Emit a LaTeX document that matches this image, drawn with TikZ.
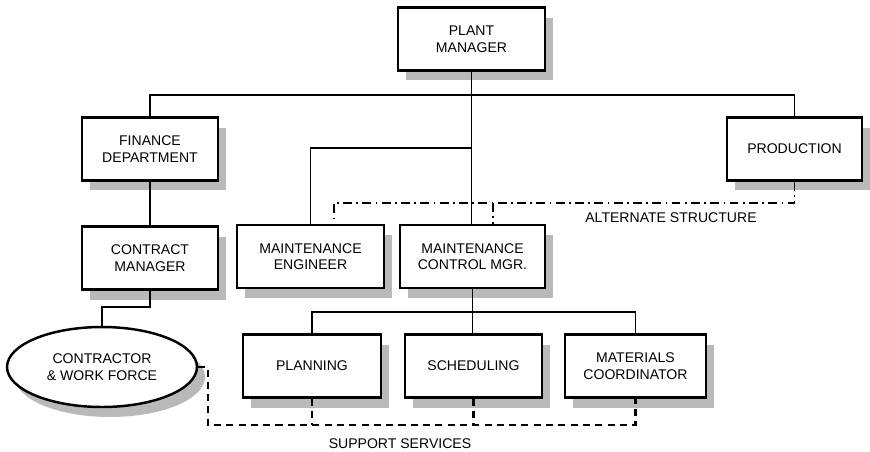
\documentclass[tikz,border=0pt]{standalone}
\usepackage{fontspec}
\setmainfont{Liberation Sans}
\usepackage{xcolor}
\usepackage{tikz}
\usetikzlibrary{shapes,arrows,positioning,calc,shadows}

\begin{document}
\begin{tikzpicture}[x=0.02cm,y=-0.02cm,
    orgbox/.style={draw,line width=1.4pt,fill=white,align=center,
      minimum height=1.26cm,inner sep=2pt,
      font=\fontsize{8}{9.5}\selectfont,
      drop shadow={shadow xshift=0.16cm,shadow yshift=-0.2cm,fill=gray!55,opacity=1}},
    link/.style={line width=1.1pt},
    altline/.style={line width=1pt,dash pattern=on 5pt off 2.5pt on 1pt off 2.5pt},
    supline/.style={line width=1.2pt,dash pattern=on 4pt off 3pt},
    lbl/.style={font=\fontsize{8}{9.5}\selectfont}]
  \useasboundingbox (0,0) rectangle (870,451);
  % 方框
  \node[orgbox,minimum width=2.94cm] (plant) at (471.5,39) {PLANT\\MANAGER};
  \node[orgbox,minimum width=2.72cm] (finance) at (150,149) {FINANCE\\DEPARTMENT};
  \node[orgbox,minimum width=2.7cm] (prod) at (794.5,149) {PRODUCTION};
  \node[orgbox,minimum width=2.72cm] (contract) at (150,258) {CONTRACT\\MANAGER};
  \node[orgbox,minimum width=2.94cm] (engineer) at (310.5,256.5) {MAINTENANCE\\ENGINEER};
  \node[orgbox,minimum width=2.9cm] (control) at (472.5,256.5) {MAINTENANCE\\CONTROL MGR.};
  \node[orgbox,minimum width=2.76cm] (planning) at (312,366) {PLANNING};
  \node[orgbox,minimum width=2.74cm] (sched) at (473.5,366) {SCHEDULING};
  \node[orgbox,minimum width=2.82cm] (mater) at (635.5,366) {MATERIALS\\COORDINATOR};
  \node[orgbox,ellipse,minimum width=3.8cm,minimum height=1.6cm] (contractor) at (102,367) {CONTRACTOR\\\& WORK FORCE};
  % 实线
  \coordinate (topbar) at (472,95);
  \coordinate (midbar) at (472,148);
  \coordinate (lowbar) at (472,312);
  \coordinate (bend) at (150,307);
  \draw[link] (finance.north) |- (topbar) -| (prod.north);
  \draw[link] (plant.south) -- (plant.south |- control.north);
  \draw[link] (engineer.north) |- (midbar);
  \draw[link] (finance) -- (contract);
  \draw[link] (contract.south) -- (bend) -| (contractor.north);
  \draw[link] (control.south) -- (control.south |- sched.north);
  \draw[link] (planning.north) |- (lowbar) -| (mater.north);
  % 备选结构
  \coordinate (altR) at (794.5,203);
  \coordinate (altL) at (334,203);
  \coordinate (altM) at (493,203);
  \draw[altline] (prod.south) -- (altR) -- (altL) -- (altL |- engineer.north);
  \draw[altline] (altM) -- (altM |- control.north);
  \node[lbl] (alttext) at (671,218) {ALTERNATE STRUCTURE};
  % 支持服务
  \coordinate (supL) at (208,425);
  \draw[supline] (contractor.east) -| (supL) -- (mater.south |- supL) -- (mater.south);
  \draw[supline] (planning.south) -- (planning.south |- supL);
  \draw[supline] (sched.south) -- (sched.south |- supL);
  \node[lbl] (suptext) at (400,444) {SUPPORT SERVICES};
\end{tikzpicture}
\end{document}
